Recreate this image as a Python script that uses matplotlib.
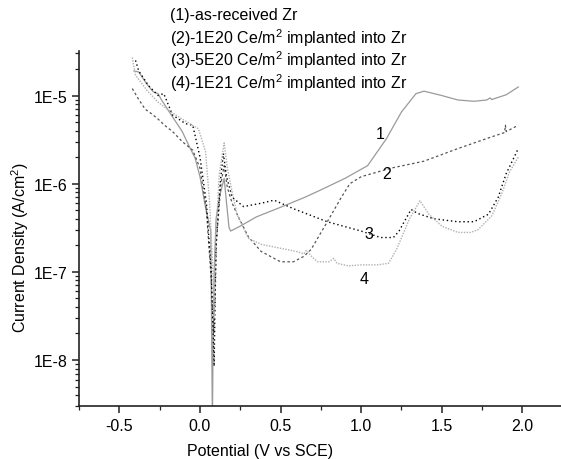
import numpy as np
import matplotlib.pyplot as plt
from matplotlib.ticker import MultipleLocator, FixedLocator, FuncFormatter, LogLocator

plt.rcParams['font.family'] = ['Liberation Sans', 'DejaVu Sans']
plt.rcParams['mathtext.fontset'] = 'custom'
plt.rcParams['mathtext.rm'] = 'Liberation Sans'

# Data (potential in V vs SCE, current density in A/cm2)
x1 = [-0.41, -0.38, -0.33, -0.29, -0.26, -0.24, -0.19, -0.11, -0.06, -0.03, 0.0, 0.036, 0.067,
      0.077, 0.082, 0.088, 0.1, 0.12, 0.15, 0.165, 0.18, 0.19, 0.25, 0.35, 0.5, 0.65, 0.75, 0.9,
      1.04, 1.155, 1.25, 1.34, 1.39, 1.5, 1.6, 1.7, 1.78, 1.8, 1.81, 1.9, 1.975]
y1 = [1.9e-5, 1.85e-5, 1.35e-5, 1.1e-5, 1.05e-5, 9.0e-6, 6.5e-6, 3.9e-6, 2.5e-6, 1.95e-6, 1.2e-6,
      5.2e-7, 2.9e-7, 2.0e-9, 2.0e-8, 1.0e-7, 4.0e-7, 7.0e-7, 1.15e-6, 6.0e-7, 3.2e-7, 2.9e-7,
      3.3e-7, 4.2e-7, 5.4e-7, 7.0e-7, 8.5e-7, 1.15e-6, 1.6e-6, 3.2e-6, 6.5e-6, 1.05e-5, 1.12e-5,
      1.0e-5, 8.9e-6, 8.6e-6, 8.9e-6, 9.4e-6, 9.0e-6, 1.02e-5, 1.25e-5]

x2 = [-0.42, -0.38, -0.34, -0.30, -0.26, -0.22, -0.17, -0.11, -0.045, 0.0, 0.04, 0.07, 0.085,
      0.093, 0.1, 0.13, 0.15, 0.17, 0.2, 0.23, 0.3, 0.38, 0.5, 0.58, 0.645, 0.69, 0.79, 0.875,
      0.93, 1.0, 1.185, 1.39, 1.6, 1.81, 1.89, 1.895, 1.9, 1.975]
y2 = [1.2e-5, 9.0e-6, 7.0e-6, 6.2e-6, 5.4e-6, 4.6e-6, 3.9e-6, 3.0e-6, 2.4e-6, 1.5e-6, 5.0e-7,
      8.0e-8, 2.0e-8, 5.0e-8, 2.0e-7, 1.0e-6, 1.6e-6, 9.0e-7, 6.0e-7, 4.5e-7, 2.5e-7, 1.7e-7,
      1.3e-7, 1.3e-7, 1.5e-7, 1.8e-7, 3.7e-7, 6.9e-7, 1.0e-6, 1.2e-6, 1.5e-6, 1.8e-6, 2.5e-6,
      3.4e-6, 3.8e-6, 4.6e-6, 3.9e-6, 4.6e-6]

x3 = [-0.40, -0.38, -0.32, -0.26, -0.225, -0.17, -0.09, -0.045, -0.03, 0.0, 0.04, 0.07, 0.088,
      0.092, 0.1, 0.125, 0.145, 0.165, 0.2, 0.27, 0.38, 0.46, 0.58, 0.79, 1.0, 1.12, 1.2, 1.235,
      1.26, 1.31, 1.35, 1.45, 1.6, 1.7, 1.79, 1.85, 1.9, 1.975]
y3 = [2.5e-5, 1.9e-5, 1.3e-5, 1.0e-5, 1.05e-5, 6.0e-6, 4.8e-6, 4.6e-6, 3.5e-6, 2.0e-6, 6.0e-7,
      1.0e-7, 8.5e-9, 3.0e-8, 2.0e-7, 1.0e-6, 2.2e-6, 1.2e-6, 7.0e-7, 5.5e-7, 6.0e-7, 6.5e-7,
      5.2e-7, 3.7e-7, 2.9e-7, 2.45e-7, 2.45e-7, 2.9e-7, 3.5e-7, 5.1e-7, 4.6e-7, 4.0e-7, 3.7e-7,
      3.7e-7, 4.5e-7, 7.0e-7, 1.3e-6, 2.5e-6]

x4 = [-0.42, -0.40, -0.33, -0.26, -0.18, -0.11, -0.01, 0.035, 0.06, 0.08, 0.088, 0.095, 0.12,
      0.15, 0.17, 0.2, 0.23, 0.3, 0.38, 0.5, 0.6, 0.645, 0.66, 0.7, 0.73, 0.8, 0.83, 0.85, 0.92,
      1.0, 1.1, 1.17, 1.22, 1.3, 1.365, 1.42, 1.5, 1.6, 1.68, 1.725, 1.81, 1.87, 1.92, 1.975]
y4 = [2.7e-5, 1.7e-5, 1.15e-5, 8.4e-6, 6.5e-6, 5.4e-6, 4.2e-6, 2.3e-6, 6.0e-7, 1.0e-7, 3.0e-8,
      2.0e-7, 1.3e-6, 2.9e-6, 1.5e-6, 8.0e-7, 4.5e-7, 2.4e-7, 2.05e-7, 1.85e-7, 1.7e-7, 1.6e-7,
      1.75e-7, 1.45e-7, 1.3e-7, 1.3e-7, 1.42e-7, 1.25e-7, 1.17e-7, 1.2e-7, 1.2e-7, 1.25e-7,
      1.8e-7, 4.0e-7, 6.4e-7, 4.5e-7, 3.3e-7, 2.8e-7, 2.8e-7, 3.0e-7, 4.3e-7, 7.5e-7, 1.35e-6, 2.0e-6]

legend_lines = ['(1)-as-received Zr',
                '(2)-1E20 Ce/m$\\mathregular{^2}$ implanted into Zr',
                '(3)-5E20 Ce/m$\\mathregular{^2}$ implanted into Zr',
                '(4)-1E21 Ce/m$\\mathregular{^2}$ implanted into Zr']
curve_labels = ['1', '2', '3', '4']
label_x = [1.12, 1.155, 1.05, 1.02]
label_y = [3.7e-6, 1.3e-6, 2.7e-7, 8.5e-8]

fs = 11.5

fig = plt.figure(figsize=(5.61, 4.6), dpi=100)
ax = fig.add_axes([0.141, 0.115, 0.859, 0.772])

ax.plot(x1, y1, color='#9a9a9a', lw=0.9, ls='-')
ax.plot(x2, y2, color='#555555', lw=0.9, ls=(0, (2, 2)))
ax.plot(x3, y3, color='#000000', lw=1.0, ls=(0, (1, 2)))
ax.plot(x4, y4, color='#b0b0b0', lw=1.0, ls=(0, (1, 1)))

ax.set_yscale('log')
ax.set_xlim(-0.75, 2.24)
ax.set_ylim(3.0e-9, 3.2e-5)

ax.xaxis.set_major_locator(MultipleLocator(0.5))
ax.xaxis.set_minor_locator(MultipleLocator(0.25))
ax.xaxis.set_major_formatter(FuncFormatter(lambda v, p: '%.1f' % v))
ax.yaxis.set_major_locator(FixedLocator([1e-8, 1e-7, 1e-6, 1e-5]))
ax.yaxis.set_minor_locator(LogLocator(base=10, subs=np.arange(2, 10)))
ax.yaxis.set_major_formatter(FuncFormatter(lambda v, p: '1E%d' % round(np.log10(v))))
ax.yaxis.set_minor_formatter(FuncFormatter(lambda v, p: ''))

for s in ['top', 'right']:
    ax.spines[s].set_visible(False)
for s in ['left', 'bottom']:
    ax.spines[s].set_linewidth(1.2)
    ax.spines[s].set_color('#222222')

ax.tick_params(which='major', direction='out', length=5, width=1.1, labelsize=fs, color='#222222')
ax.tick_params(which='minor', direction='out', length=3, width=0.9, color='#222222')

ax.set_xlabel('Potential (V vs SCE)', fontsize=fs)
ax.set_ylabel('Current Density (A/cm$\\mathregular{^2}$)', fontsize=fs)
ax.xaxis.set_label_coords(0.3745, -0.105)
ax.yaxis.set_label_coords(-0.1, 0.45)

for t, lx, ly in zip(curve_labels, label_x, label_y):
    ax.text(lx, ly, t, fontsize=fs, ha='center', va='center')

for i, t in enumerate(legend_lines):
    fig.text(0.303, 0.967 - i * 0.049, t, fontsize=fs, ha='left', va='center')

fig.savefig('out.png', dpi=100)
